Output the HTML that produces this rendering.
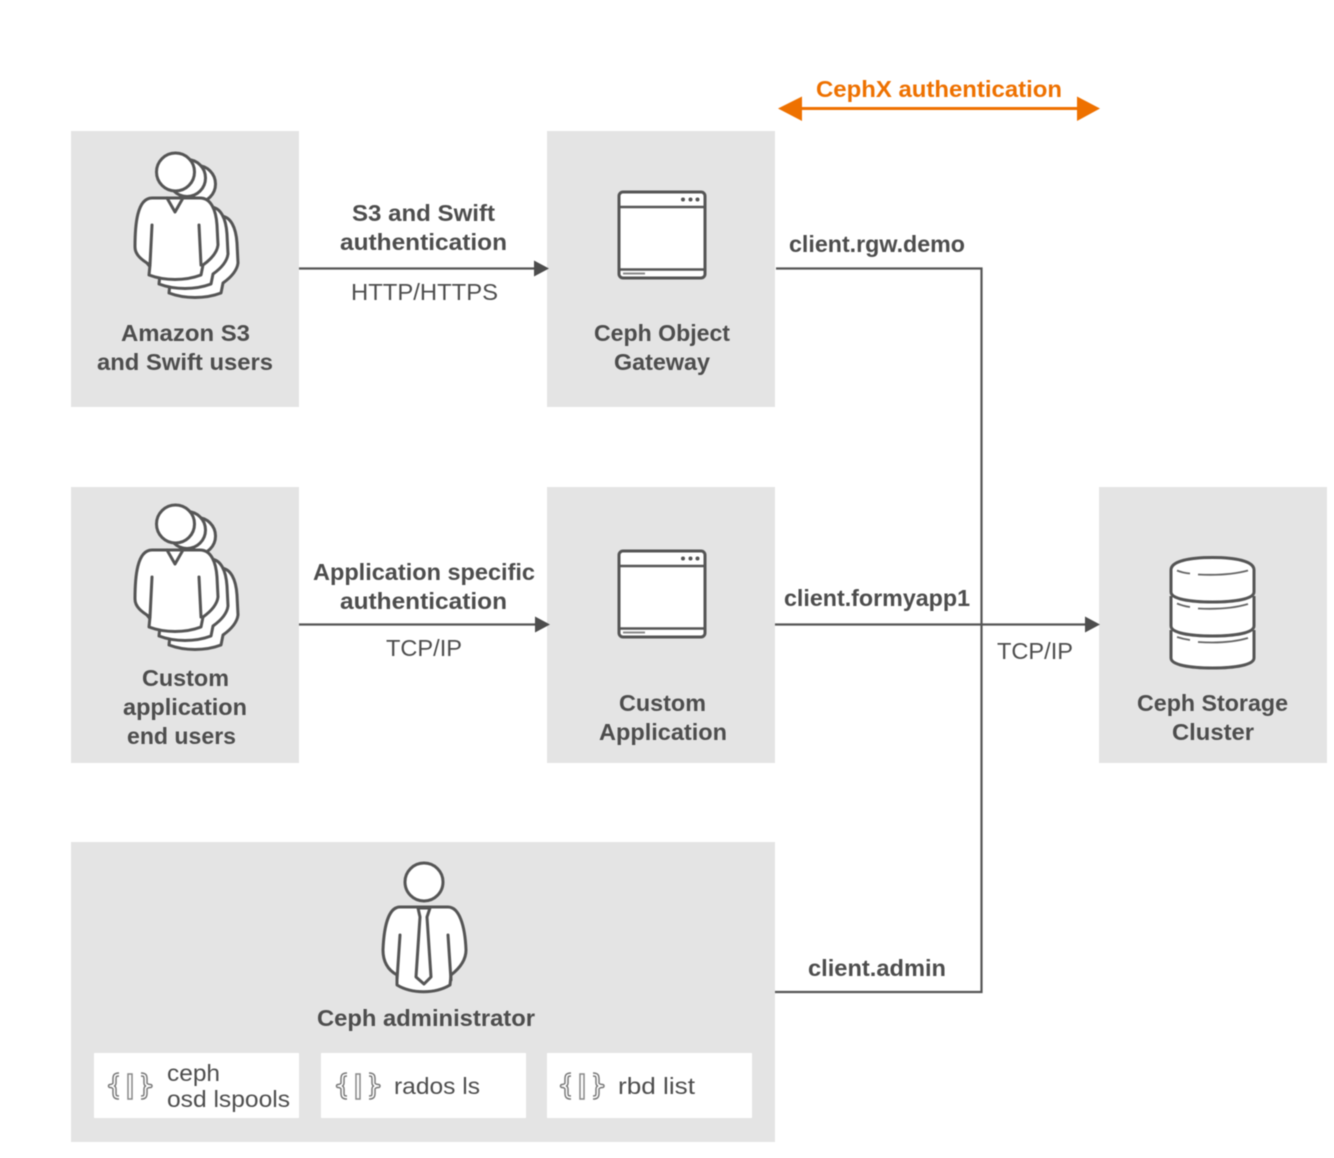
<!DOCTYPE html>
<html><head><meta charset="utf-8"><style>
html,body{margin:0;padding:0;background:#ffffff}
svg{display:block;filter:blur(0.4px)}
text{font-family:"Liberation Sans",sans-serif;font-size:23px;fill:#4d4d4d}
.b{font-weight:bold}
</style></head><body>
<svg xmlns="http://www.w3.org/2000/svg" width="1334" height="1158" viewBox="0 0 1334 1158">
<defs>
<path id="body" fill="#ffffff" stroke="#555555" stroke-width="3" stroke-linejoin="round" d="M152 198H200C211 198 216 210 217 225L218 245C217 253 210 260 203 265L201 275C185 281 165 281 149 275L150 265C142 260 135 255 135 247C135 225 137 198 152 198Z"/>
<g id="people">
<circle fill="#ffffff" stroke="#555555" stroke-width="3" cx="197" cy="184" r="18.500"/>
<circle fill="#ffffff" stroke="#555555" stroke-width="3" cx="187" cy="178" r="18.500"/>
<use href="#body" x="20" y="18"/><use href="#body" x="10" y="9"/><use href="#body"/>
<circle fill="#ffffff" stroke="#555555" stroke-width="3" cx="175.500" cy="172" r="19"/>
<path fill="none" stroke="#555555" stroke-width="3" stroke-linejoin="round" stroke-linecap="round" d="M167 198L175 212L183 198M152 225L150 265M199 225L201 265"/>
</g>
<g id="win">
<rect fill="#ffffff" stroke="#555555" stroke-width="3" x="619" y="192" width="86" height="86" rx="4"/>
<path d="M619 207H705M619 269.500H705" fill="none" stroke="#555555" stroke-width="2.500"/>
<path d="M623 273.500H645" stroke="#888888" stroke-width="2"/>
<circle cx="683" cy="199.500" r="2" fill="#555555"/><circle cx="690.500" cy="199.500" r="2" fill="#555555"/><circle cx="697.500" cy="199.500" r="2" fill="#555555"/>
</g>
<g id="cb">
<g fill="none" stroke="#777777" stroke-width="4.500" stroke-linejoin="round">
<path d="M119 1074.500C115 1074.500 114.500 1076 114.500 1079V1083C114.500 1085 112 1086 110 1086C112 1086 114.500 1087 114.500 1089V1093C114.500 1096 115 1097.500 119 1097.500"/>
<path d="M141 1074.500C145 1074.500 145.500 1076 145.500 1079V1083C145.500 1085 148 1086 150.500 1086C148 1086 145.500 1087 145.500 1089V1093C145.500 1096 145 1097.500 141 1097.500"/>
</g>
<g fill="none" stroke="#ffffff" stroke-width="1.600" stroke-linejoin="round">
<path d="M119 1074.500C115 1074.500 114.500 1076 114.500 1079V1083C114.500 1085 112 1086 110 1086C112 1086 114.500 1087 114.500 1089V1093C114.500 1096 115 1097.500 119 1097.500"/>
<path d="M141 1074.500C145 1074.500 145.500 1076 145.500 1079V1083C145.500 1085 148 1086 150.500 1086C148 1086 145.500 1087 145.500 1089V1093C145.500 1096 145 1097.500 141 1097.500"/>
</g>
<rect x="128" y="1074" width="4" height="25" fill="#ffffff" stroke="#888888" stroke-width="1.500"/>
</g>
</defs>

<rect x="71" y="131" width="228" height="276" fill="#e4e4e4"/>
<rect x="547" y="131" width="228" height="276" fill="#e4e4e4"/>
<rect x="71" y="487" width="228" height="276" fill="#e4e4e4"/>
<rect x="547" y="487" width="228" height="276" fill="#e4e4e4"/>
<rect x="1099" y="487" width="228" height="276" fill="#e4e4e4"/>
<rect x="71" y="842" width="704" height="300" fill="#e4e4e4"/>
<rect x="94" y="1053" width="205" height="65" fill="#ffffff"/>
<rect x="321" y="1053" width="205" height="65" fill="#ffffff"/>
<rect x="547" y="1053" width="205" height="65" fill="#ffffff"/>

<use href="#people"/>
<use href="#people" y="352"/>
<use href="#win"/>
<use href="#win" y="359"/>

<g fill="#ffffff" stroke="#555555" stroke-width="3" stroke-linejoin="round">
<path d="M1171 630V658C1171 665 1190 668 1212.500 668C1235 668 1254 665 1254 658V630"/>
<path d="M1171 596V626C1171 633 1190 636 1212.500 636C1235 636 1254 633 1254 626V596"/>
<path d="M1171 570C1171 561 1190 557.500 1212.500 557.500C1235 557.500 1254 561 1254 570V592C1254 599 1235 602 1212.500 602C1190 602 1171 599 1171 592Z"/>
</g>
<path d="M1177 570.500Q1183 573 1190 573.500M1198 574.500Q1228 576 1248 570.500M1177 603.500Q1183 606 1190 607M1198 608.500Q1228 610 1248 604M1177 637Q1183 639 1190 640M1198 642Q1228 644 1248 638" fill="none" stroke="#666666" stroke-width="1.800"/>

<g>
<path fill="#ffffff" stroke="#555555" stroke-width="3" stroke-linejoin="round" d="M400 907H448C459 907 465 925 466 950C466 960 460 968 451 975L450 985C435 994 412 994 397 985L397 975C388 970 383 962 383 950C384 925 389 907 400 907Z"/>
<circle fill="#ffffff" stroke="#555555" stroke-width="3" cx="424" cy="882" r="19"/>
<path fill="none" stroke="#555555" stroke-width="3" stroke-linecap="round" d="M400 935L397 980M448 935L451 980"/>
<path fill="#ffffff" stroke="#555555" stroke-width="3" stroke-linejoin="round" d="M418 908H430L427 917L431 977L424 984L416 977L420 917Z"/>
</g>

<path fill="none" stroke="#555555" stroke-width="2.200" d="M299 268.500H536M299 624.500H537M776 268.500H981.500V992H775M775 624.500H1087"/>
<path d="M534 260.500L549 268.500L534 276.500Z" fill="#4d4d4d"/>
<path d="M535 616.500L550 624.500L535 632.500Z" fill="#4d4d4d"/>
<path d="M1085 616.500L1100 624.500L1085 632.500Z" fill="#4d4d4d"/>
<path d="M795 108.500H1084" stroke="#ee7100" stroke-width="3" fill="none"/>
<path d="M802 96.500L778 108.500L802 121Z" fill="#ee7100"/>
<path d="M1077 96.500L1100 108.500L1077 121Z" fill="#ee7100"/>

<text class="b" x="816" y="97" textLength="246" lengthAdjust="spacingAndGlyphs" style="fill:#ee7100">CephX authentication</text>
<text class="b" x="121" y="341" textLength="129" lengthAdjust="spacingAndGlyphs">Amazon S3</text>
<text class="b" x="97" y="370" textLength="176" lengthAdjust="spacingAndGlyphs">and Swift users</text>
<text class="b" x="352" y="221" textLength="143" lengthAdjust="spacingAndGlyphs">S3 and Swift</text>
<text class="b" x="340" y="250" textLength="167" lengthAdjust="spacingAndGlyphs">authentication</text>
<text x="351" y="300" textLength="147" lengthAdjust="spacingAndGlyphs">HTTP/HTTPS</text>
<text class="b" x="594" y="341" textLength="136" lengthAdjust="spacingAndGlyphs">Ceph Object</text>
<text class="b" x="614" y="370" textLength="96" lengthAdjust="spacingAndGlyphs">Gateway</text>
<text class="b" x="789" y="252" textLength="176" lengthAdjust="spacingAndGlyphs">client.rgw.demo</text>
<text class="b" x="142" y="686" textLength="87" lengthAdjust="spacingAndGlyphs">Custom</text>
<text class="b" x="123" y="715" textLength="124" lengthAdjust="spacingAndGlyphs">application</text>
<text class="b" x="127" y="744" textLength="109" lengthAdjust="spacingAndGlyphs">end users</text>
<text class="b" x="313" y="580" textLength="222" lengthAdjust="spacingAndGlyphs">Application specific</text>
<text class="b" x="340" y="609" textLength="167" lengthAdjust="spacingAndGlyphs">authentication</text>
<text x="386" y="656" textLength="76" lengthAdjust="spacingAndGlyphs">TCP/IP</text>
<text class="b" x="619" y="711" textLength="87" lengthAdjust="spacingAndGlyphs">Custom</text>
<text class="b" x="599" y="740" textLength="128" lengthAdjust="spacingAndGlyphs">Application</text>
<text class="b" x="784" y="606" textLength="186" lengthAdjust="spacingAndGlyphs">client.formyapp1</text>
<text x="997" y="659" textLength="76" lengthAdjust="spacingAndGlyphs">TCP/IP</text>
<text class="b" x="1137" y="711" textLength="151" lengthAdjust="spacingAndGlyphs">Ceph Storage</text>
<text class="b" x="1172" y="740" textLength="82" lengthAdjust="spacingAndGlyphs">Cluster</text>
<text class="b" x="808" y="976" textLength="138" lengthAdjust="spacingAndGlyphs">client.admin</text>
<text class="b" x="317" y="1026" textLength="218" lengthAdjust="spacingAndGlyphs">Ceph administrator</text>

<use href="#cb" x="0"/><use href="#cb" x="228"/><use href="#cb" x="452"/>
<text x="167" y="1081" textLength="53" lengthAdjust="spacingAndGlyphs">ceph</text>
<text x="167" y="1107" textLength="123" lengthAdjust="spacingAndGlyphs">osd lspools</text>
<text x="394" y="1094" textLength="86" lengthAdjust="spacingAndGlyphs">rados ls</text>
<text x="618" y="1094" textLength="77" lengthAdjust="spacingAndGlyphs">rbd list</text>
</svg>
</body></html>
